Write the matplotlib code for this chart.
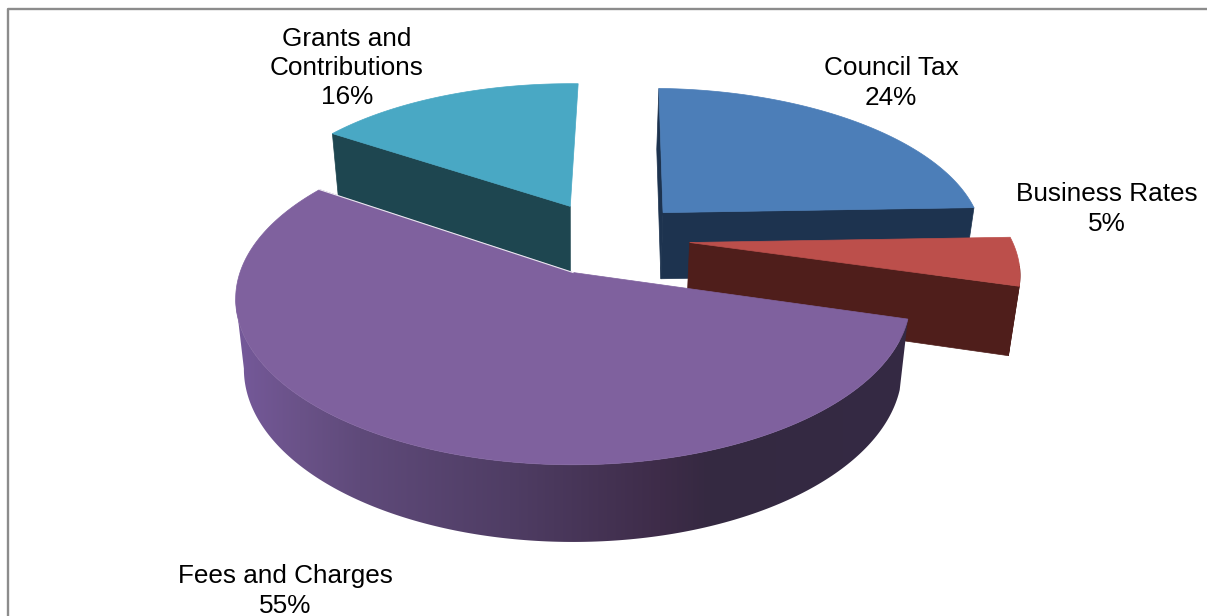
import numpy as np
import matplotlib
matplotlib.use("Agg")
import matplotlib.pyplot as plt
from matplotlib.colors import to_rgb
from matplotlib.patches import Polygon

labels = ["Council Tax", "Business Rates", "Fees and Charges", "Grants and\nContributions"]
shares = [24, 5, 55, 16]

top_colors = ["#4c7eb8", "#bc4f4b", "#7f619e", "#49a8c4"]
side_colors = ["#1d334f", "#4f1e1b", "#342a44", "#1e4650"]
label_pos = [(891, 83), (1107, 209), (285, 591), (347, 68)]

# cut faces that can be seen from the camera (0 = first edge, -1 = last edge)
open_faces = [(0, -1), (-1,), (), (0,)]

# shading across the outer wall of the big slice: pixel column, colour
wall_cols = [236, 300, 360, 510, 660, 710, 910]
wall_shades = ["#75599a", "#6a5288", "#5f4a7a", "#4f3d64", "#3e2c49", "#352941", "#342a44"]

START_ANGLE = 88.4   # first slice starts here, going clockwise
EXPLODE_X, EXPLODE_Y = 0.255, 0.244
RIM_STEPS = 240
WALL_LIMIT = -0.15   # rim points further back than this have their wall hidden

# camera, in pixels
CX, CY = 573, 272.5
SCALE_X, SCALE_Y = 333, 161.5
PERSP = 0.16
DEPTH = 70.5
DEPTH_SHRINK = 0.025


def slice_angles():
    ends = START_ANGLE - np.cumsum(np.array(shares) * 3.6)
    starts = np.r_[START_ANGLE, ends[:-1]]
    return starts, ends


def offset(a0, a1):
    mid = np.radians((a0 + a1) / 2)
    return EXPLODE_X * np.cos(mid), EXPLODE_Y * np.sin(mid)


def project(x, y, z, origin):
    # z is 0 on the top of the pie and 1 on its underside
    x = np.asarray(x) - origin[0]
    y = np.asarray(y) - origin[1]
    w = (1 + PERSP * y) * (1 + DEPTH_SHRINK * z)
    return CX + SCALE_X * x / w, CY - (SCALE_Y * y - DEPTH * z) / w


def poly(ax, x, y, color, z):
    ax.fill(x, y, facecolor=color, edgecolor=color, linewidth=0.5, zorder=z)


def shaded_wall(ax, x, y, z):
    # left to right ramp, clipped to the wall outline
    cols = np.arange(int(x.min()) - 2, int(x.max()) + 3)
    shades = np.array([to_rgb(c) for c in wall_shades])
    ramp = np.stack([np.interp(cols, wall_cols, shades[:, n]) for n in range(3)], axis=1)
    im = ax.imshow(ramp[np.newaxis, :, :], aspect="auto", zorder=z, interpolation="bilinear",
                   extent=(cols[0], cols[-1], y.max() + 2, y.min() - 2))
    outline = Polygon(np.c_[x, y], closed=True, transform=ax.transData)
    im.set_clip_path(outline)


def draw_slice(ax, i, a0, a1, origin, order):
    ox, oy = offset(a0, a1)
    t = np.radians(np.linspace(a0, a1, RIM_STEPS))
    rx, ry = ox + np.cos(t), oy + np.sin(t)

    for k in open_faces[i]:
        fx = np.array([ox, rx[k], rx[k], ox])
        fy = np.array([oy, ry[k], ry[k], oy])
        sx, sy = project(fx, fy, np.array([0, 0, 1, 1]), origin)
        poly(ax, sx, sy, side_colors[i], order)

    # outer wall, front part of the rim only: top rim one way, bottom rim back
    front = np.sin(t) < WALL_LIMIT
    if front.any():
        n = front.sum()
        tx, ty = project(rx[front], ry[front], np.zeros(n), origin)
        bx, by = project(rx[front], ry[front], np.ones(n), origin)
        wx, wy = np.r_[tx, bx[::-1]], np.r_[ty, by[::-1]]
        if shares[i] == max(shares):
            shaded_wall(ax, wx, wy, order + 0.1)
        else:
            poly(ax, wx, wy, side_colors[i], order + 0.1)

    # top surface
    sx, sy = project(np.r_[ox, rx], np.r_[oy, ry], np.zeros(RIM_STEPS + 1), origin)
    poly(ax, sx, sy, top_colors[i], order + 0.2)
    return sx, sy


def main():
    fig = plt.figure(figsize=(12.07, 6.16), dpi=100)
    ax = fig.add_axes([0, 0, 1, 1])
    ax.axis("off")

    # chart frame, only left and top fall inside the picture
    ax.plot([8, 8, 1207], [616, 9, 9], color="#8c8c8c", lw=1.7, zorder=0)

    starts, ends = slice_angles()
    big = int(np.argmax(shares))
    origin = offset(starts[big], ends[big])

    # far slices first, the big one goes over the rest
    for order, i in enumerate([3, 0, 1, 2]):
        sx, sy = draw_slice(ax, i, starts[i], ends[i], origin, order + 1)
        if i == big:
            # thin light edge along the cut next to the grants slice
            ax.plot([sx[0], sx[-1]], [sy[0], sy[-1]], color="white", lw=0.8, alpha=0.85, zorder=order + 1.3)

    for name, share, (px, py) in zip(labels, shares, label_pos):
        ax.text(px, py, f"{name}\n{share}%", ha="center", va="center", ma="center",
                family="Liberation Sans", fontsize=18.8, color="black", linespacing=1.28, zorder=10)

    ax.set_xlim(0, 1207)
    ax.set_ylim(616, 0)
    fig.savefig("out.png", dpi=100, facecolor="white")


if __name__ == "__main__":
    main()
